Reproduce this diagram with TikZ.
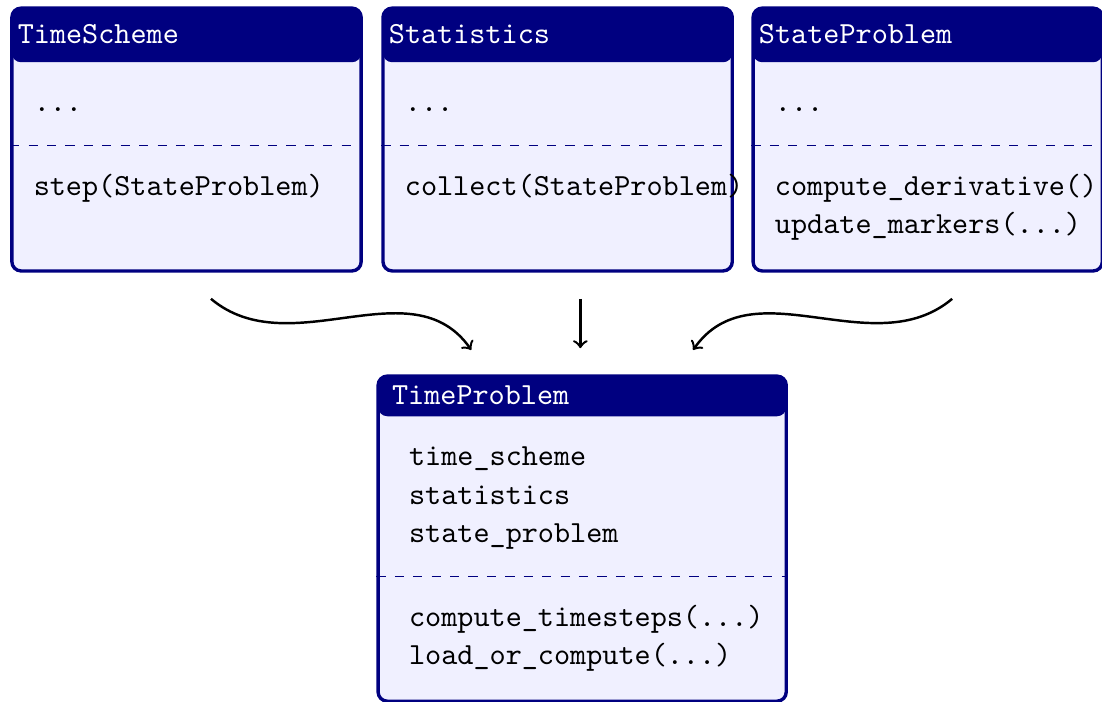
\documentclass[tikz,border=0pt]{standalone}
\usepackage{fontspec}
\definecolor{navy}{RGB}{0,0,128}

\begin{document}
\begin{tikzpicture}[font=\ttfamily,>=to,
 classbox/.style={draw=navy,line width=1.1pt,rounded corners=3pt,fill=blue!6,minimum width=4cm,minimum height=3.01cm,inner sep=0pt,
  path picture={\fill[navy] (path picture bounding box.north west) rectangle ([yshift=-#1]path picture bounding box.north east);}},
 classbox/.default=0.62cm,
 classname/.style={text=white,anchor=base west,inner sep=0pt},
 member/.style={anchor=base west,inner sep=0pt,align=left},
 divider/.style={navy,dashed,thin}]
\useasboundingbox (0,0) rectangle (12.62,8.03);
% upper row
\node[classbox] (ts) at (2.136,6.432) {};
\node[classname] (tsname) at ([xshift=0.08cm,yshift=-0.43cm]ts.north west) {TimeScheme};
\node[member] (tsattr) at ([xshift=0.263cm,yshift=-1.203cm]ts.north west) {...};
\draw[divider] ([yshift=-1.592cm]ts.north west) -- ([yshift=-1.592cm]ts.north east);
\node[member] (tsops) at ([xshift=0.263cm,yshift=-2.16cm]ts.north west) {step(StateProblem)};

\node[classbox] (st) at (6.386,6.432) {};
\node[classname] (stname) at ([xshift=0.08cm,yshift=-0.43cm]st.north west) {Statistics};
\node[member] (stattr) at ([xshift=0.263cm,yshift=-1.203cm]st.north west) {...};
\draw[divider] ([yshift=-1.592cm]st.north west) -- ([yshift=-1.592cm]st.north east);
\node[member] (stops) at ([xshift=0.263cm,yshift=-2.16cm]st.north west) {collect(StateProblem)};

\node[classbox] (sp) at (10.624,6.432) {};
\node[classname] (spname) at ([xshift=0.08cm,yshift=-0.43cm]sp.north west) {StateProblem};
\node[member] (spattr) at ([xshift=0.263cm,yshift=-1.203cm]sp.north west) {...};
\draw[divider] ([yshift=-1.592cm]sp.north west) -- ([yshift=-1.592cm]sp.north east);
\node[member] (spops) at ([xshift=0.263cm,yshift=-2.6cm]sp.north west) {compute\_derivative()\\[0.4pt]update\_markers(...)};
% lower class
\node[classbox=0.46cm,minimum width=4.674cm,minimum height=3.723cm] (tp) at (6.667,1.8615) {};
\node[classname] (tpname) at ([xshift=0.172cm,yshift=-0.34cm]tp.north west) {TimeProblem};
\node[member] (tpattr) at ([xshift=0.367cm,yshift=-1.92cm]tp.north west) {time\_scheme\\[0.4pt]statistics\\[0.4pt]state\_problem};
\draw[divider] ([yshift=-2.314cm]tp.north west) -- ([yshift=-2.314cm]tp.north east);
\node[member] (tpops) at ([xshift=0.367cm,yshift=-3.32cm]tp.north west) {compute\_timesteps(...)\\[0.4pt]load\_or\_compute(...)};
% connectors
\coordinate (stout) at ([xshift=0.26cm,yshift=-0.3cm]st.south);
\coordinate (tpin) at ([yshift=0.3cm]tp.north);
\draw[thick,->] ([xshift=0.28cm,yshift=-0.3cm]ts.south) to[out=-40,in=125] ([xshift=-1.27cm,yshift=0.28cm]tp.north);
\draw[thick,->] (stout) -- (stout |- tpin);
\draw[thick,->] ([xshift=0.28cm,yshift=-0.3cm]sp.south) to[out=-140,in=55] ([xshift=1.27cm,yshift=0.28cm]tp.north);
\end{tikzpicture}
\end{document}
